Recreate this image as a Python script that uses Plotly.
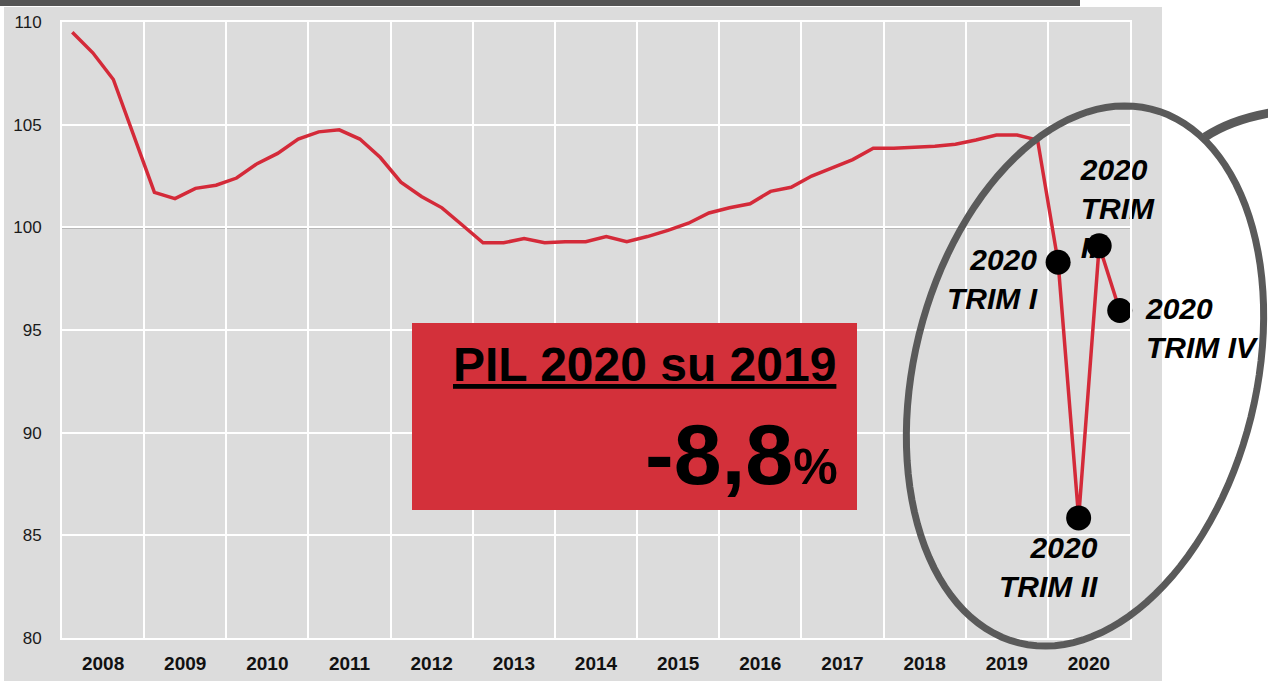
import numpy as np
import plotly.graph_objects as go

# ---------------- data ----------------
years = [2008]*4 + [2009]*4 + [2010]*4 + [2011]*4 + [2012]*4 + [2013]*4 + [2014]*4 + \
        [2015]*4 + [2016]*4 + [2017]*4 + [2018]*4 + [2019]*4 + [2020]*4
quarters = [1, 2, 3, 4] * 13
pil_index = [
    109.5, 108.5, 107.2, 104.4,   # 2008
    101.7, 101.4, 101.9, 102.05,  # 2009
    102.4, 103.1, 103.6, 104.3,   # 2010
    104.65, 104.75, 104.3, 103.4, # 2011
    102.2, 101.5, 100.95, 100.1,  # 2012
    99.25, 99.25, 99.45, 99.25,   # 2013
    99.3, 99.3, 99.55, 99.3,      # 2014
    99.55, 99.85, 100.2, 100.7,   # 2015
    100.95, 101.15, 101.75, 101.95,  # 2016
    102.5, 102.9, 103.3, 103.85,  # 2017
    103.85, 103.9, 103.95, 104.05,  # 2018
    104.25, 104.5, 104.5, 104.25, # 2019
    98.3, 85.85, 99.1, 95.95,     # 2020
]
year_labels = [str(y) for y in range(2008, 2021)]
y_ticks = [80, 85, 90, 95, 100, 105, 110]
highlight_labels = ["2020<br>TRIM I", "2020<br>TRIM II", "2020<br>TRIM<br>III", "2020<br>TRIM IV"]
box_title = "PIL 2020 su 2019"
box_value = "-8,8"

# ---------------- geometry helpers ----------------
W, H = 1268, 681
ML, MR, MT, MB = 62, 138, 22, 43
PW, PH = W - ML - MR, H - MT - MB


def px(x):
    return (x - ML) / PW


def py(y):
    return (H - MB - y) / PH


x_vals = [y + (q - 0.5) / 4 for y, q in zip(years, quarters)]
x20 = x_vals[-4:]
v20 = pil_index[-4:]

RED = "#d42a39"
ARIAL = "Liberation Sans, Arial, sans-serif"

fig = go.Figure()

# main line
fig.add_trace(go.Scatter(x=x_vals, y=pil_index, mode="lines",
                         line=dict(color=RED, width=3.5), hoverinfo="skip", showlegend=False))

# label for Q3 (drawn under the markers)
fig.add_trace(go.Scatter(x=[x20[2] - 0.225], y=[v20[2] + 1.65], mode="text",
                         text=["<b><i>" + highlight_labels[2] + "</i></b>"],
                         textposition="middle right", cliponaxis=False,
                         textfont=dict(family=ARIAL, size=30, color="black"),
                         hoverinfo="skip", showlegend=False))

# 2020 markers
fig.add_trace(go.Scatter(x=x20, y=v20, mode="markers", cliponaxis=False,
                         marker=dict(color="black", size=25), hoverinfo="skip", showlegend=False))

shapes = []
# gray panel behind the chart
shapes.append(dict(type="rect", xref="paper", yref="paper", layer="below",
                   x0=px(4), x1=px(1162), y0=py(685), y1=py(7),
                   fillcolor="#dcdcdc", line=dict(width=0)))
# dark top bar
shapes.append(dict(type="rect", xref="paper", yref="paper", layer="below",
                   x0=px(-4), x1=px(1080), y0=py(6), y1=py(-4),
                   fillcolor="#555555", line=dict(width=0)))
# reference line at 100
shapes.append(dict(type="line", xref="paper", yref="y", x0=0, x1=1, y0=100, y1=100,
                   line=dict(color="#4a4a4a", width=2), layer="below"))
# red box
shapes.append(dict(type="rect", xref="paper", yref="paper", layer="above",
                   x0=px(412), x1=px(857), y0=py(510), y1=py(323),
                   fillcolor="#d3303a", line=dict(width=0)))

# tilted ellipse around 2020
cx, cy = 1085, 376
a, b = 275, 171
th = np.deg2rad(13.9)
ux, uy = np.sin(th), -np.cos(th)
vx, vy = np.cos(th), np.sin(th)
t = np.linspace(0, 2 * np.pi, 121)
ex = cx + a * np.cos(t) * ux + b * np.sin(t) * vx
ey = cy + a * np.cos(t) * uy + b * np.sin(t) * vy
path = "M " + " L ".join(f"{px(xx):.5f},{py(yy):.5f}" for xx, yy in zip(ex, ey)) + " Z"
shapes.append(dict(type="path", xref="paper", yref="paper", path=path, layer="above",
                   line=dict(color="#5a5a5a", width=7)))
# partial arc at top right
arc = f"M {px(1205):.5f},{py(137):.5f} Q {px(1232):.5f},{py(119):.5f} {px(1275):.5f},{py(112):.5f}"
shapes.append(dict(type="path", xref="paper", yref="paper", path=arc, layer="above",
                   line=dict(color="#5a5a5a", width=9)))

annotations = []
lab_font = dict(family=ARIAL, size=30, color="black")
annotations.append(dict(x=x20[0], y=v20[0], xref="x", yref="y", showarrow=False,
                        text="<b><i>" + highlight_labels[0] + "</i></b>", align="right",
                        xanchor="right", yanchor="middle", xshift=-18, yshift=-17, font=lab_font))
annotations.append(dict(x=x20[1], y=v20[1], xref="x", yref="y", showarrow=False,
                        text="<b><i>" + highlight_labels[1] + "</i></b>", align="right",
                        xanchor="right", yanchor="middle", xshift=21, yshift=-49, font=lab_font))
annotations.append(dict(x=x20[3], y=v20[3], xref="x", yref="y", showarrow=False,
                        text="<b><i>" + highlight_labels[3] + "</i></b>", align="left",
                        xanchor="left", yanchor="middle", xshift=23, yshift=-18, font=lab_font))
# box texts
annotations.append(dict(x=px(838), y=py(364), xref="paper", yref="paper", showarrow=False,
                        text="<b>" + box_title + "</b>", xanchor="right", yanchor="middle",
                        font=dict(family=ARIAL, size=48, color="black", lineposition="under")))
annotations.append(dict(x=px(840), y=py(454), xref="paper", yref="paper", showarrow=False,
                        text="<b>" + box_value + "<span style='font-size:50px'>%</span></b>",
                        xanchor="right", yanchor="middle",
                        font=dict(family=ARIAL, size=86, color="black")))

fig.update_layout(
    template="none",
    width=W, height=H,
    margin=dict(l=ML, r=MR, t=MT, b=MB, pad=0, autoexpand=False),
    paper_bgcolor="white", plot_bgcolor="#dcdcdc",
    shapes=shapes, annotations=annotations, showlegend=False,
    xaxis=dict(range=[2008, 2021], tickmode="array", automargin=False,
               tickvals=[y + 0.5 for y in range(2008, 2021)], ticktext=[f"<b>{s}</b>" for s in year_labels],
               showgrid=False, zeroline=False, ticks="", ticklabelstandoff=7,
               tickfont=dict(family=ARIAL, size=19, color="#111111"),
               minor=dict(tickmode="array", tickvals=list(range(2009, 2021)), showgrid=True,
                          gridcolor="white", gridwidth=1.5, ticks=""),
               showline=True, linecolor="white", linewidth=2, mirror=True),
    yaxis=dict(range=[80, 110], tickmode="array", tickvals=y_ticks, automargin=False,
               showgrid=True, gridcolor="white", gridwidth=1.5, zeroline=False, ticks="",
               ticklabelstandoff=15,
               tickfont=dict(family=ARIAL, size=17, color="#1a1a1a"),
               showline=True, linecolor="white", linewidth=2, mirror=True),
)

fig.write_html("out.html", config={"displayModeBar": False},
               post_script="document.body.style.margin='0px';")
